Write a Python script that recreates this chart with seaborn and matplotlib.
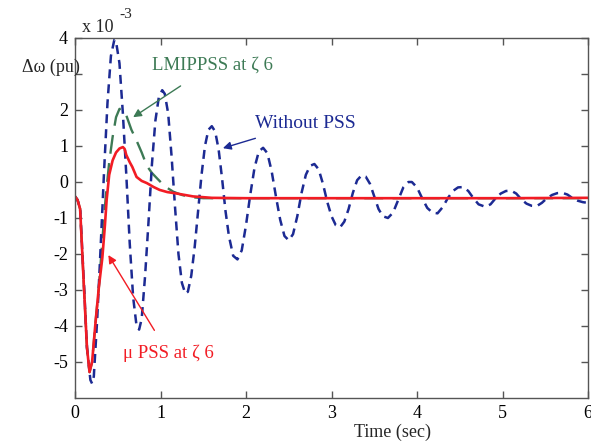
import numpy as np
import pandas as pd
import matplotlib
matplotlib.use("Agg")
import matplotlib.pyplot as plt
import seaborn as sns

# ---- data (values in units of 1e-3 pu) ----
t_nopss = [0.00, 0.03, 0.06, 0.10, 0.14, 0.18, 0.20, 0.22, 0.26, 0.30, 0.34, 0.38, 0.42, 0.46, 0.48,
           0.52, 0.56, 0.60, 0.64, 0.68, 0.72, 0.75, 0.78, 0.82, 0.86, 0.90, 0.94, 0.98, 1.02, 1.05,
           1.09, 1.13, 1.17, 1.21, 1.25, 1.29, 1.32, 1.36, 1.40, 1.44, 1.48, 1.52, 1.56, 1.60, 1.64,
           1.68, 1.72, 1.76, 1.80, 1.85, 1.90, 1.95, 2.00, 2.05, 2.10, 2.15, 2.20, 2.25, 2.30, 2.35,
           2.40, 2.45, 2.50, 2.55, 2.60, 2.65, 2.70, 2.75, 2.80, 2.85, 2.90, 2.95, 3.00, 3.05, 3.10,
           3.15, 3.20, 3.25, 3.30, 3.35, 3.40, 3.45, 3.50, 3.55, 3.60, 3.66, 3.72, 3.78, 3.84, 3.90,
           3.94, 4.00, 4.06, 4.12, 4.18, 4.24, 4.30, 4.36, 4.42, 4.48, 4.54, 4.60, 4.66, 4.72, 4.80,
           4.86, 4.92, 4.98, 5.04, 5.10, 5.16, 5.22, 5.28, 5.34, 5.40, 5.46, 5.52, 5.58, 5.64, 5.70,
           5.76, 5.82, 5.88, 5.94, 6.00]
w_nopss = [-0.40, -0.50, -0.75, -2.6, -4.6, -5.5, -5.6, -5.4, -3.8, -1.8, 0.3, 2.2, 3.5, 3.95, 3.9,
           3.3, 1.9, 0.2, -1.7, -3.2, -4.0, -4.1, -3.8, -2.6, -1.1, 0.5, 1.7, 2.35, 2.55, 2.45,
           1.9, 0.7, -0.7, -2.0, -2.8, -3.1, -3.05, -2.6, -1.8, -0.8, 0.2, 1.0, 1.45, 1.55, 1.4,
           0.9, 0.1, -0.8, -1.5, -2.05, -2.15, -1.9, -1.2, -0.35, 0.4, 0.85, 0.95, 0.8, 0.3, -0.4,
           -1.05, -1.5, -1.62, -1.45, -0.95, -0.3, 0.2, 0.45, 0.5, 0.35, -0.05, -0.55, -0.95, -1.2, -1.26,
           -1.1, -0.75, -0.3, 0.05, 0.18, 0.15, -0.05, -0.4, -0.75, -0.95, -1.0, -0.85, -0.5, -0.15, 0.0,
           0.0, -0.15, -0.45, -0.72, -0.85, -0.87, -0.7, -0.45, -0.25, -0.15, -0.14, -0.25, -0.45, -0.62, -0.69,
           -0.62, -0.45, -0.32, -0.25, -0.24, -0.32, -0.48, -0.6, -0.66, -0.67, -0.58, -0.45, -0.36, -0.31, -0.30,
           -0.35, -0.45, -0.52, -0.56, -0.58]

t_lmi = [0.00, 0.03, 0.06, 0.10, 0.14, 0.17, 0.20, 0.24, 0.28, 0.32, 0.36, 0.40, 0.44, 0.48, 0.52,
         0.55, 0.60, 0.66, 0.72, 0.78, 0.84, 0.90, 0.96, 1.05, 1.15, 1.25, 1.35, 1.50, 2.00, 3.00,
         4.00, 5.00, 6.00]
w_lmi = [-0.40, -0.50, -0.75, -2.7, -4.6, -5.28, -5.0, -3.9, -2.9, -1.6, -0.4, 0.55, 1.25, 1.8, 2.03,
         2.03, 1.85, 1.45, 1.15, 0.82, 0.45, 0.25, 0.1, -0.12, -0.27, -0.36, -0.42, -0.45, -0.45, -0.45,
         -0.45, -0.45, -0.45]

t_mu = [0.00, 0.03, 0.06, 0.10, 0.14, 0.17, 0.20, 0.24, 0.28, 0.32, 0.35, 0.37, 0.40, 0.44, 0.48,
        0.52, 0.56, 0.58, 0.60, 0.64, 0.67, 0.72, 0.78, 0.84, 0.92, 0.99, 1.08, 1.19, 1.38, 1.60,
        2.00, 3.00, 4.00, 5.00, 6.00]
w_mu = [-0.40, -0.50, -0.75, -2.7, -4.6, -5.28, -5.0, -3.9, -2.9, -2.1, -1.2, -0.5, 0.2, 0.6, 0.82,
        0.93, 0.97, 0.92, 0.75, 0.55, 0.42, 0.14, 0.03, -0.03, -0.14, -0.22, -0.28, -0.32, -0.40, -0.44,
        -0.45, -0.45, -0.45, -0.45, -0.44]

x_ticks = [0, 1, 2, 3, 4, 5, 6]
y_ticks = [-5, -4, -3, -2, -1, 0, 1, 2, 3, 4]
y_ticklabels = ["-5", "-4", "-3", "-2", "-1", "0", "1", "2", "", "4"]

BLUE = "#1c2a93"
GREEN = "#3d7a55"
RED = "#f21c24"

sns.set_style("ticks")
plt.rcParams["font.family"] = ["Liberation Serif", "DejaVu Serif"]
plt.rcParams["axes.unicode_minus"] = False

fig = plt.figure(figsize=(5.91, 4.45), dpi=100)
ax = fig.add_axes([75/591, 1 - 398/445, (588 - 75)/591, (398 - 38)/445])

df_no = pd.DataFrame({"t": t_nopss, "w": w_nopss})
df_lmi = pd.DataFrame({"t": t_lmi, "w": w_lmi})
df_mu = pd.DataFrame({"t": t_mu, "w": w_mu})

sns.lineplot(data=df_lmi, x="t", y="w", ax=ax, color=GREEN, lw=1.7,
             sort=False, estimator=None)
ax.lines[-1].set_dashes([8, 4])
sns.lineplot(data=df_no, x="t", y="w", ax=ax, color=BLUE, lw=1.8,
             sort=False, estimator=None)
ax.lines[-1].set_dashes([3.6, 2.4])
sns.lineplot(data=df_mu, x="t", y="w", ax=ax, color=RED, lw=1.9,
             sort=False, estimator=None)

ax.set_xlim(0, 6)
ax.set_ylim(-6, 4)
ax.set_xticks(x_ticks)
ax.set_xticklabels([str(v) for v in x_ticks])
ax.set_yticks(y_ticks)
ax.set_yticklabels(y_ticklabels)
ax.set_xlabel("")
ax.set_ylabel("")
for s in ax.spines.values():
    s.set_visible(True)
    s.set_color("#555555")
    s.set_linewidth(1.0)
ax.tick_params(direction="in", length=5, width=1, color="#555555",
               top=True, right=True, labelsize=13, labelcolor="black", pad=5)

# axis texts
fig.text(22/591, 1 - 67/445, "Δω (pu)", fontsize=13, ha="left", va="center")
fig.text(82/591, 1 - 28/445, "x 10", fontsize=13, ha="left", va="center")
fig.text(119/591, 1 - 14/445, "-3", fontsize=11, ha="left", va="center")
fig.text(392/591, 1 - 432/445, "Time (sec)", fontsize=13, ha="center", va="center")

# annotations
ax.annotate("LMIPPSS at ζ 6", xy=(0.68, 1.8), xytext=(0.90, 3.25), fontsize=13.5,
            color=GREEN, ha="left", va="center",
            arrowprops=dict(arrowstyle="-|>", color=GREEN, lw=1, mutation_scale=12,
                            shrinkA=12, shrinkB=0))
ax.annotate("Without PSS", xy=(1.73, 0.94), xytext=(2.10, 1.63), fontsize=14,
            color=BLUE, ha="left", va="center",
            arrowprops=dict(arrowstyle="-|>", color=BLUE, lw=1, mutation_scale=12,
                            shrinkA=8, shrinkB=0))
ax.annotate("μ PSS at ζ 6", xy=(0.39, -2.03), xytext=(0.56, -4.75), fontsize=13.5,
            color=RED, ha="left", va="center",
            arrowprops=dict(arrowstyle="-|>", color=RED, lw=1, mutation_scale=12,
                            shrinkA=9, shrinkB=0))

fig.savefig("out.png", dpi=100)
